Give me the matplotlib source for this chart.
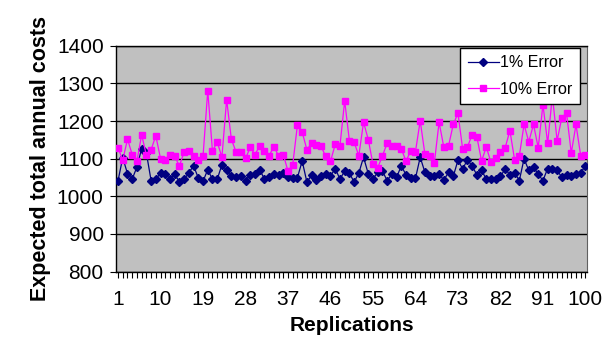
import matplotlib
matplotlib.use("Agg")
import matplotlib.pyplot as plt
import numpy as np

# Replication number 1..100
replications = list(range(1, 101))

# Expected total annual costs
cost_1pct = [
    1042, 1103, 1060, 1046, 1078, 1127, 1115, 1042, 1045, 1062,
    1059, 1047, 1059, 1038, 1045, 1063, 1081, 1049, 1040, 1071,
    1045, 1045, 1084, 1069, 1053, 1051, 1054, 1042, 1057, 1060,
    1071, 1046, 1051, 1059, 1057, 1062, 1051, 1050, 1050, 1094,
    1038, 1056, 1043, 1053, 1060, 1054, 1074, 1046, 1067, 1062,
    1038, 1062, 1104, 1060, 1046, 1064, 1067, 1042, 1059, 1051,
    1081, 1057, 1048, 1048, 1104, 1064, 1053, 1053, 1060, 1043,
    1064, 1053, 1096, 1073, 1097, 1081, 1057, 1070, 1045, 1045,
    1046, 1053, 1073, 1057, 1063, 1042, 1100, 1069, 1078, 1059,
    1042, 1074, 1074, 1069, 1051, 1057, 1055, 1059, 1063, 1081,
]
cost_10pct = [
    1129, 1096, 1152, 1111, 1094, 1164, 1109, 1124, 1161, 1100,
    1096, 1109, 1106, 1081, 1118, 1121, 1108, 1097, 1106, 1281,
    1120, 1145, 1104, 1257, 1152, 1118, 1118, 1101, 1130, 1111,
    1134, 1120, 1108, 1132, 1108, 1111, 1067, 1084, 1190, 1171,
    1124, 1141, 1136, 1133, 1106, 1093, 1138, 1134, 1254, 1148,
    1144, 1108, 1197, 1151, 1085, 1076, 1108, 1141, 1134, 1134,
    1126, 1094, 1121, 1119, 1201, 1112, 1106, 1089, 1197, 1131,
    1134, 1191, 1221, 1125, 1131, 1164, 1158, 1094, 1131, 1090,
    1103, 1119, 1129, 1175, 1097, 1108, 1191, 1145, 1191, 1129,
    1244, 1141, 1268, 1148, 1209, 1221, 1115, 1191, 1108, 1111,
]
x_labels = [1, 10, 19, 28, 37, 46, 55, 64, 73, 82, 91, 100]
y_ticks = [800, 900, 1000, 1100, 1200, 1300, 1400]

plt.rcParams['font.family'] = ['Liberation Sans', 'DejaVu Sans']

fig = plt.figure(figsize=(6.05, 3.37), dpi=100)
ax = fig.add_axes([0.192, 0.194, 0.778, 0.670])
ax.set_facecolor('#C0C0C0')

ax.plot(replications, cost_1pct, color='#000080', linewidth=0.9,
        marker='D', markersize=4, label='1% Error', zorder=3)
ax.plot(replications, cost_10pct, color='#FF00FF', linewidth=0.9,
        marker='s', markersize=4.5, label='10% Error', zorder=3)

ax.set_ylim(800, 1400)
ax.set_xlim(0.6, 100.3)
ax.set_yticks(y_ticks)
ax.yaxis.grid(True, color='black', linewidth=1.0)
ax.set_axisbelow(True)

ax.set_xticks(x_labels)
ax.set_xticks(replications, minor=True)
ax.tick_params(axis='x', which='both', length=4, width=0.8, direction='out')
ax.tick_params(axis='x', which='major', pad=9, labelsize=15)
ax.tick_params(axis='y', length=4, width=0.8, pad=5, labelsize=15)

for side in ['left', 'bottom', 'top']:
    ax.spines[side].set_color('black')
    ax.spines[side].set_linewidth(1.0)
ax.spines['right'].set_color('#606060')

ax.set_xlabel('Replications', fontsize=15, fontweight='bold', labelpad=5)
ax.set_ylabel('Expected total annual costs', fontsize=15.5, fontweight='bold', labelpad=4)

leg = ax.legend(loc='upper right', bbox_to_anchor=(0.995, 1.012), fontsize=11.5,
                frameon=True, fancybox=False, framealpha=1, edgecolor='black',
                handlelength=2.0, borderpad=0.45, labelspacing=0.75, handletextpad=0.05,
                borderaxespad=0.3)
leg.get_frame().set_linewidth(1.0)

fig.savefig('out.png', dpi=100)
